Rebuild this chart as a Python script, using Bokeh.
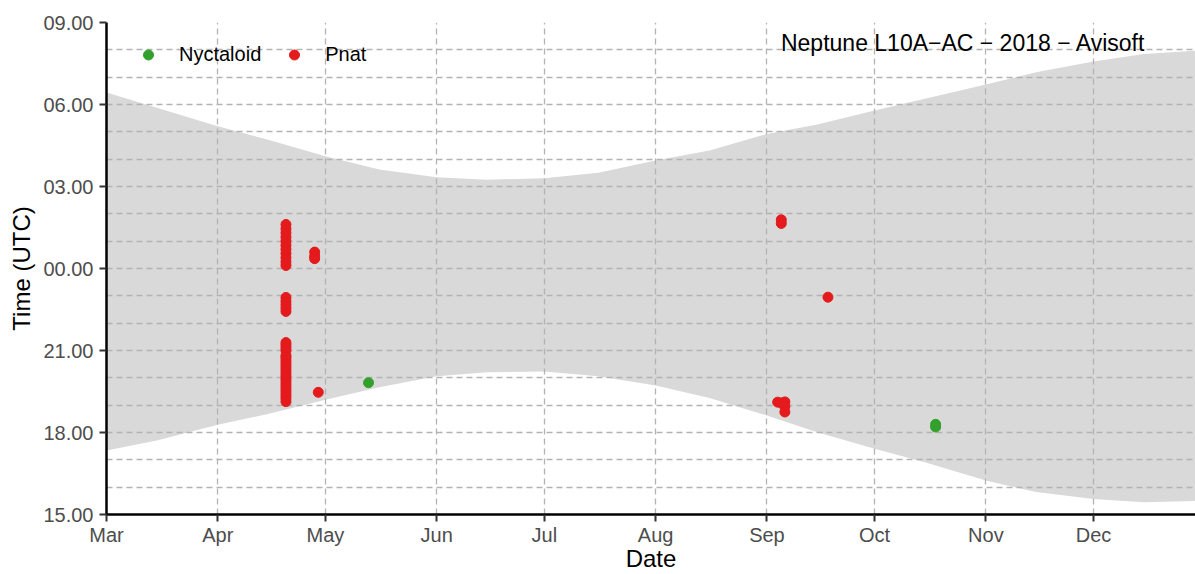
import pandas as pd
from bokeh.plotting import figure
from bokeh.models import FixedTicker, Range1d, Label
from bokeh.embed import file_html
from bokeh.resources import INLINE

# ---------------- data ----------------
month_starts = ["2018-03-01", "2018-04-01", "2018-05-01", "2018-06-01", "2018-07-01",
                "2018-08-01", "2018-09-01", "2018-10-01", "2018-11-01", "2018-12-01"]
month_labels = ["Mar", "Apr", "May", "Jun", "Jul", "Aug", "Sep", "Oct", "Nov", "Dec"]

hour_ticks = [15, 18, 21, 24, 27, 30, 33]
hour_labels = ["15.00", "18.00", "21.00", "00.00", "03.00", "06.00", "09.00"]
grid_hours = [16, 17, 18, 19, 20, 21, 22, 23, 24, 25, 26, 27, 28, 29, 30, 31, 32]

# night band (sunset -> next sunrise), hours after midnight of the evening day
band_dates = ["2018-03-01", "2018-03-15", "2018-04-01", "2018-04-15", "2018-05-01",
              "2018-05-16", "2018-06-01", "2018-06-15", "2018-07-01", "2018-07-16",
              "2018-08-01", "2018-08-16", "2018-09-01", "2018-09-15", "2018-10-01",
              "2018-10-15", "2018-11-01", "2018-11-15", "2018-12-01", "2018-12-15",
              "2018-12-31"]
sunrise = [30.44, 29.88, 29.20, 28.71, 28.11, 27.62, 27.34, 27.25, 27.30, 27.50,
           27.95, 28.32, 28.92, 29.27, 29.78, 30.21, 30.73, 31.18, 31.57, 31.85, 31.98]
sunset = [17.34, 17.71, 18.28, 18.68, 19.20, 19.66, 20.06, 20.20, 20.23, 20.06,
          19.72, 19.26, 18.62, 18.01, 17.41, 16.91, 16.24, 15.82, 15.57, 15.45, 15.50]

nyct_dates = ["2018-05-13", "2018-10-18", "2018-10-18"]
nyct_times = [19.82, 18.30, 18.20]

pnat_dates = (["2018-04-20"] * 38 +
              ["2018-04-28"] * 3 +
              ["2018-04-29"] +
              ["2018-09-04", "2018-09-05", "2018-09-06", "2018-09-06", "2018-09-06"] +
              ["2018-09-05", "2018-09-05"] +
              ["2018-09-18"])
pnat_times = ([19.13, 19.25, 19.35, 19.45, 19.55, 19.65, 19.75, 19.85, 19.95, 20.05,
               20.15, 20.25, 20.35, 20.45, 20.55, 20.65, 20.75, 20.82,
               21.00, 21.10, 21.20, 21.29,
               22.43, 22.55, 22.68, 22.80, 22.94,
               24.11, 24.25, 24.40, 24.55, 24.70, 24.85, 25.00, 25.15, 25.30, 25.45, 25.61] +
              [24.60, 24.45, 24.36] +
              [19.47] +
              [19.11, 19.08, 19.12, 18.95, 18.75] +
              [25.78, 25.65] +
              [22.95])

title_text = "Neptune L10A\u2212AC \u2212 2018 \u2212 Avisoft"

START = pd.Timestamp("2018-03-01")


def days(ds):
    return [(pd.Timestamp(d) - START).total_seconds() / 86400.0 for d in ds]


month_days = [int(d) for d in days(month_starts)]
FONT = "Liberation Sans"

# ---------------- figure ----------------
p = figure(width=1195, height=574, output_backend="svg", toolbar_location=None,
           x_range=Range1d(0, 303.4), y_range=Range1d(15, 33),
           min_border_left=106, min_border_right=0, min_border_top=22, min_border_bottom=60)
p.outline_line_color = None
p.background_fill_color = "white"

p.varea(x=days(band_dates), y1=sunset, y2=sunrise, fill_color="#d9d9d9", level="image")

p.scatter(x=days(nyct_dates), y=nyct_times, size=10, color="#33a02c", legend_label="Nyctaloid")
p.scatter(x=days(pnat_dates), y=pnat_times, size=10, color="#e41a1c", legend_label="Pnat")

# axes
p.xaxis.ticker = FixedTicker(ticks=month_days)
p.xaxis.major_label_overrides = dict(zip(month_days, month_labels))
p.yaxis.ticker = FixedTicker(ticks=hour_ticks)
p.yaxis.major_label_overrides = dict(zip(hour_ticks, hour_labels))

p.axis.axis_line_color = "black"
p.axis.axis_line_width = 2.5
p.axis.major_tick_line_color = "#333333"
p.axis.major_tick_line_width = 2
p.axis.major_tick_out = 7
p.axis.major_tick_in = 0
p.axis.minor_tick_line_color = None
p.axis.major_label_text_color = "#4d4d4d"
p.axis.major_label_text_font_size = "20px"
p.axis.major_label_text_font = FONT
p.xaxis.major_label_standoff = 2
p.yaxis.major_label_standoff = 6

p.axis.axis_label_text_font_size = "24px"
p.axis.axis_label_text_font = FONT
p.axis.axis_label_text_font_style = "normal"
p.axis.axis_label_text_color = "black"
p.yaxis.axis_label = "Time (UTC)"
p.yaxis.axis_label_standoff = 5
p.xaxis.axis_label = "Date"
p.xaxis.axis_label_standoff = -4

# grid
p.xgrid.ticker = FixedTicker(ticks=month_days)
p.ygrid.ticker = FixedTicker(ticks=grid_hours)
p.grid.grid_line_color = "#b3b3b3"
p.grid.grid_line_dash = "6 4"
p.grid.grid_line_width = 1.3

# plot title inside panel
p.add_layout(Label(x=289.5, y=32.24, text=title_text, text_align="right",
                   text_baseline="alphabetic", text_font_size="23px",
                   text_font=FONT, text_color="black"))

# legend
lg = p.legend[0]
lg.location = "top_left"
lg.orientation = "horizontal"
lg.background_fill_alpha = 0
lg.border_line_alpha = 0
lg.margin = 0
lg.padding = 20
lg.glyph_width = 44
lg.glyph_height = 25
lg.label_height = 25
lg.label_standoff = 9
lg.spacing = 11
lg.label_text_font_size = "20px"
lg.label_text_font = FONT
lg.label_text_color = "black"

open("out.html", "w").write(file_html(p, INLINE))
